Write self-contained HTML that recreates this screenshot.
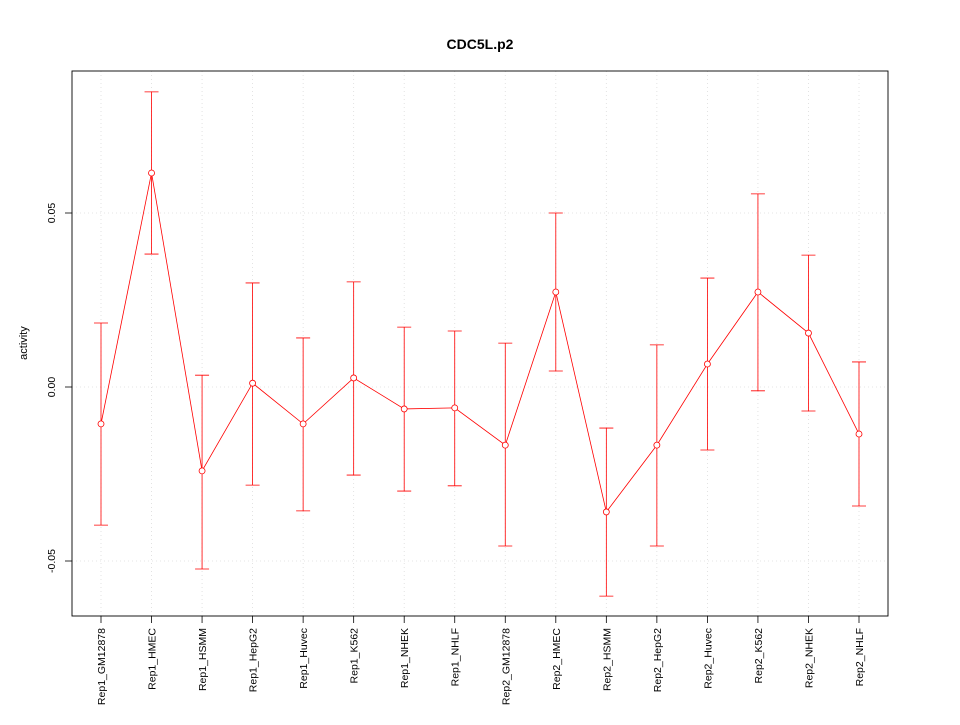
<!DOCTYPE html>
<html><head><meta charset="utf-8"><style>
body{margin:0;background:#fff;}
svg text{font-family:"Liberation Sans",sans-serif;}
</style></head><body>
<svg id="chart" width="960" height="720" xmlns="http://www.w3.org/2000/svg">
<rect width="960" height="720" fill="#fff"/>
<text x="480" y="49" text-anchor="middle" font-size="14" font-weight="bold">CDC5L.p2</text>
<text transform="translate(27,343) rotate(-90)" text-anchor="middle" font-size="11">activity</text>
<g id="grid"></g><g id="axes"></g><g id="marks"></g>
<rect x="72" y="71" width="816" height="545" fill="none" stroke="#000" stroke-width="0.9"/>
</svg>
<script>
const categories=["Rep1_GM12878","Rep1_HMEC","Rep1_HSMM","Rep1_HepG2","Rep1_Huvec","Rep1_K562","Rep1_NHEK","Rep1_NHLF","Rep2_GM12878","Rep2_HMEC","Rep2_HSMM","Rep2_HepG2","Rep2_Huvec","Rep2_K562","Rep2_NHEK","Rep2_NHLF"];
const values=[-0.0106,0.0615,-0.0241,0.0011,-0.0106,0.0026,-0.0063,-0.0060,-0.0167,0.0273,-0.0359,-0.0167,0.0066,0.0273,0.0155,-0.0135];
const upper=[0.0184,0.0848,0.0034,0.0299,0.0141,0.0302,0.0172,0.0161,0.0126,0.0500,-0.0118,0.0121,0.0313,0.0555,0.0379,0.0072];
const lower=[-0.0397,0.0382,-0.0523,-0.0282,-0.0356,-0.0253,-0.0299,-0.0284,-0.0457,0.0046,-0.0601,-0.0457,-0.0181,-0.0011,-0.0069,-0.0342];
const yTicks=[-0.05,0,0.05];
const yTickLabels=["-0.05","0.00","0.05"];
const NS="http://www.w3.org/2000/svg";
const x=i=>101+i*(859-101)/(categories.length-1);
const y=v=>387-v*3480;
function mk(parent,tag,attrs){const e=document.createElementNS(NS,tag);for(const k in attrs)e.setAttribute(k,attrs[k]);document.getElementById(parent).appendChild(e);return e;}
categories.forEach((c,i)=>{
 const g=mk("grid","line",{x1:x(i),x2:x(i),y1:71,y2:616,stroke:"#dcdcdc","stroke-width":"0.8","stroke-dasharray":"1,3"});
 
 
 const t=mk("axes","line",{x1:x(i),x2:x(i),y1:616,y2:623,stroke:"#000","stroke-width":"0.8"});
 
 
 const l=mk("axes","text",{transform:`translate(${x(i)+4},628) rotate(-90)`,"text-anchor":"end","font-size":"10.5"});
 l.textContent=c;
 
 
});
yTicks.forEach((v,i)=>{
 const g=mk("grid","line",{x1:72,x2:888,y1:y(v),y2:y(v),stroke:"#dcdcdc","stroke-width":"0.8","stroke-dasharray":"1,3"});
 
 
 const t=mk("axes","line",{x1:65,x2:72,y1:y(v),y2:y(v),stroke:"#000","stroke-width":"0.8"});
 
 
 const l=mk("axes","text",{transform:`translate(55,${y(v)}) rotate(-90)`,"text-anchor":"middle","font-size":"10.5"});
 l.textContent=yTickLabels[i];
 
 
});
const line=mk("marks","polyline",{points:values.map((v,i)=>x(i)+","+y(v)).join(" "),fill:"none",stroke:"#f00","stroke-width":"0.8"});


values.forEach((v,i)=>{
 const e=mk("marks","path",{d:`M${x(i)},${y(lower[i])}V${y(upper[i])}M${x(i)-7},${y(upper[i])}H${x(i)+7}M${x(i)-7},${y(lower[i])}H${x(i)+7}`,stroke:"#f00","stroke-width":"0.8",fill:"none"});
 
 
 const p=mk("marks","circle",{cx:x(i),cy:y(v),r:3,fill:"#fff",stroke:"#f00","stroke-width":"0.8"});
 
 
});
</script>
</body></html>
